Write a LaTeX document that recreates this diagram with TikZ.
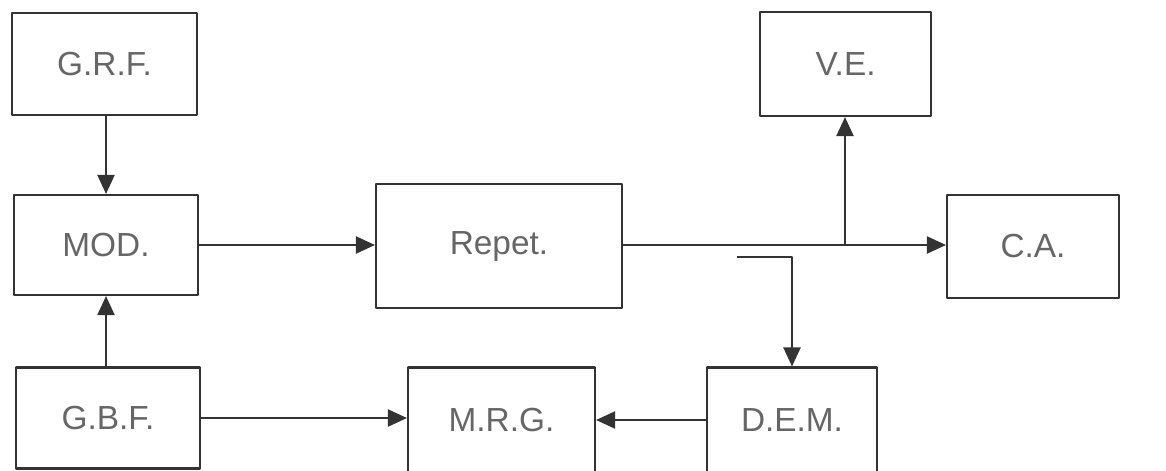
\documentclass[tikz,border=0pt]{standalone}
\usepackage{fontspec}
\setmainfont{Liberation Sans}
\usetikzlibrary{arrows.meta}
\begin{document}
\begin{tikzpicture}[x=0.02cm, y=-0.02cm, line width=1.2pt, line join=round,
    >={Triangle[length=0.38cm,width=0.34cm]},
    blk/.style={draw=black!80, inner sep=0pt, text=black!60, font=\fontsize{19}{22}\selectfont},
    link/.style={draw=black!80, ->}]
    \useasboundingbox (0,0) rectangle (1166,470);
    % blocks
    \node[blk, minimum width=3.7cm, minimum height=2.04cm] (grf) at (104.5,64) {G.R.F.};
    \node[blk, minimum width=3.68cm, minimum height=2cm] (mod) at (106,245) {MOD.};
    \node[blk, minimum width=3.68cm, minimum height=2.02cm] (gbf) at (108,418) {G.B.F.};
    \node[blk, minimum width=4.92cm, minimum height=2.48cm] (repet) at (499,246) {Repet.};
    \node[blk, minimum width=3.74cm, minimum height=2.1cm] (mrg) at (501.5,420) {M.R.G.};
    \node[blk, minimum width=3.4cm, minimum height=2.1cm] (dem) at (792,420) {D.E.M.};
    \node[blk, minimum width=3.42cm, minimum height=2.08cm] (ve) at (845.5,64) {V.E.};
    \node[blk, minimum width=3.44cm, minimum height=2.06cm] (ca) at (1033,246.5) {C.A.};
    \coordinate (br) at (845,245);
    \coordinate (hk) at (737,257);
    % links
    \draw[link] (grf.south -| mod) -- (mod.north);
    \draw[link] (gbf.north -| mod) -- (mod.south);
    \draw[link] (mod.east) -- (repet.west |- mod.east);
    \draw[link] (repet.east |- br) -- (ca.west |- br);
    \draw[link] (br) -- (ve.south -| br);
    \draw[link] (hk) -| (dem.north);
    \draw[link] (gbf.east) -- (mrg.west |- gbf.east);
    \draw[link] (dem.west) -- (mrg.east);
\end{tikzpicture}
\end{document}
